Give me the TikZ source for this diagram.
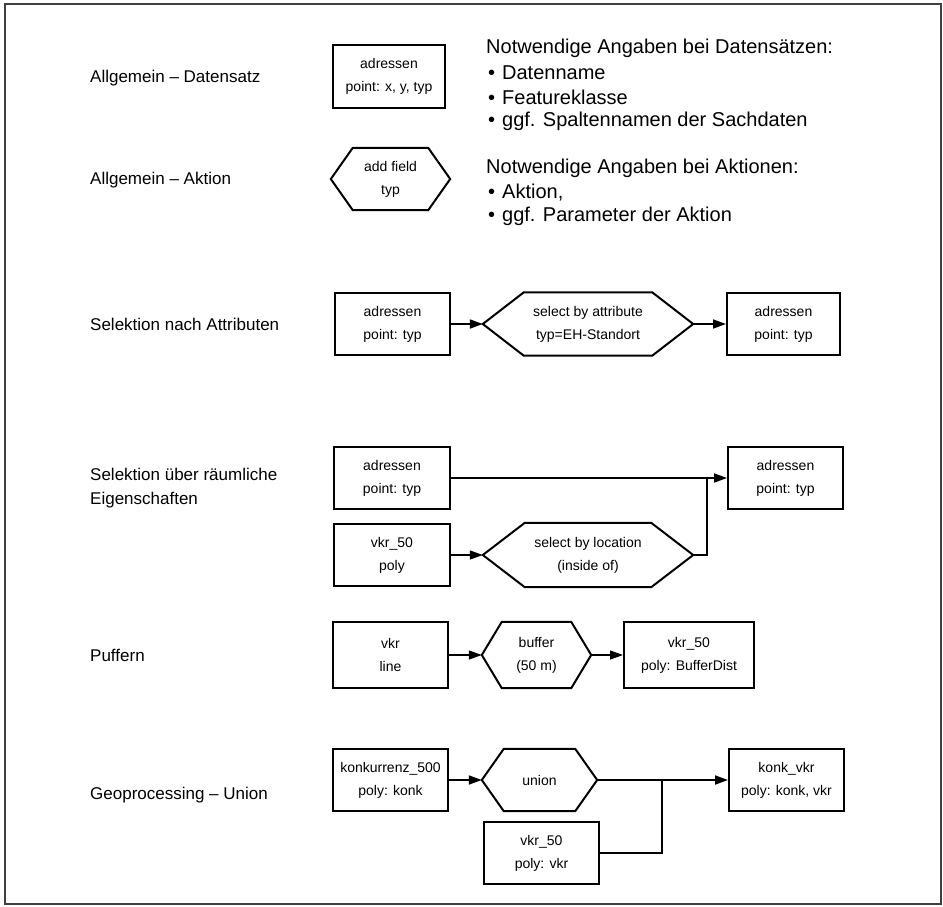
\documentclass[tikz,border=0pt]{standalone}
\usepackage{fontspec}
\setmainfont{Liberation Sans}
\usetikzlibrary{arrows.meta,calc}
\newcommand\hexdraw[2]{\draw[hexline] (#1.west) -- ($(#1.north west)+(#2,0)$) -- ($(#1.north east)+(-#2,0)$) -- (#1.east) -- ($(#1.south east)+(-#2,0)$) -- ($(#1.south west)+(#2,0)$) -- cycle;}
\begin{document}
\begin{tikzpicture}[x=1pt,y=-1pt,
  box/.style={draw,line width=2pt,minimum width=115pt,minimum height=62pt,inner sep=0pt,align=center,font=\fontsize{14}{23}\selectfont},
  hexn/.style={minimum height=63pt,inner sep=0pt,align=center,font=\fontsize{14}{23}\selectfont},
  hexline/.style={line width=2pt,line join=miter},
  lab/.style={anchor=west,inner sep=0pt,align=left,font=\fontsize{17}{24}\selectfont},
  rt/.style={anchor=west,inner sep=0pt,font=\fontsize{20}{24}\selectfont},
  conn/.style={line width=1.8pt,-{Triangle[length=13pt,width=9pt]}},
  connthin/.style={line width=1.2pt,-{Triangle[length=13pt,width=9pt]}},
  joinline/.style={line width=1.8pt},
  frameline/.style={line width=1.5pt,draw=black!75}
]
\useasboundingbox (0,0) rectangle (943,906);
\draw[frameline] (5,4) rectangle (941,904);

% left labels
\node[lab] (l1) at (90,78) {Allgemein – Datensatz};
\node[lab] (l2) at (90,180) {Allgemein – Aktion};
\node[lab] (l3) at (90,324) {Selektion nach Attributen};
\node[lab] (l4) at (90,488) {Selektion über räumliche\\Eigenschaften};
\node[lab] (l5) at (90,655) {Puffern};
\node[lab] (l6) at (90,795) {Geoprocessing – Union};

% general
\node[box,minimum width=112pt,minimum height=63pt] (b1) at (389,76.5) {adressen\\point: x, y, typ};
\node[hexn,minimum width=119pt,minimum height=62pt] (h1) at (390.5,179) {add field\\typ};
\hexdraw{h1}{22}

\node[rt] (n1) at (486,48) {Notwendige Angaben bei Datensätzen:};
\node[rt] (n1a) at (488,73) {\makebox[14pt][l]{•}Datenname};
\node[rt] (n1b) at (488,97) {\makebox[14pt][l]{•}Featureklasse};
\node[rt] (n1c) at (488,121) {\makebox[14pt][l]{•}ggf. Spaltennamen der Sachdaten};
\node[rt] (n2) at (486,168) {Notwendige Angaben bei Aktionen:};
\node[rt] (n2a) at (488,193) {\makebox[14pt][l]{•}Aktion,};
\node[rt] (n2b) at (488,216) {\makebox[14pt][l]{•}ggf. Parameter der Aktion};

% selection by attribute
\node[box] (b3a) at (392.5,324) {adressen\\point: typ};
\node[hexn,minimum width=210pt] (h3) at (588,324) {select by attribute\\typ=EH-Standort};
\hexdraw{h3}{41}
\node[box,minimum width=113pt] (b3b) at (783.5,324) {adressen\\point: typ};
\draw[conn] (b3a.east) -- (h3.west);
\draw[conn] (h3.east) -- (b3b.west);

% selection by location
\node[box,minimum width=116pt] (b4a) at (392,478) {adressen\\point: typ};
\node[box,minimum width=116pt] (b4b) at (392,555) {vkr\_50\\poly};
\node[hexn,minimum width=210pt,minimum height=64pt] (h4) at (588,555) {select by location\\(inside of)};
\hexdraw{h4}{42}
\node[box,minimum width=115pt] (b4c) at (785.5,478) {adressen\\point: typ};
\coordinate (j4) at (707,478);
\draw[conn] (b4a.east) -- (b4c.west);
\draw[connthin] (b4b.east) -- (h4.west);
\draw[joinline] (h4.east) -| (j4);

% buffer
\node[box,minimum height=66pt] (b5a) at (390.5,655) {vkr\\line};
\node[hexn,minimum width=109pt,minimum height=66pt] (h5) at (536.5,655) {buffer\\(50 m)};
\hexdraw{h5}{20}
\node[box,minimum width=130pt,minimum height=66pt] (b5b) at (689,655) {vkr\_50\\poly: BufferDist};
\draw[connthin] (b5a.east) -- (h5.west);
\draw[connthin] (h5.east) -- (b5b.west);

% union
\node[box] (b6a) at (390.5,780) {konkurrenz\_500\\poly: konk};
\node[hexn,minimum width=115pt,minimum height=62pt] (h6) at (539.5,780) {union};
\hexdraw{h6}{22}
\node[box] (b6c) at (786.5,780) {konk\_vkr\\poly: konk, vkr};
\node[box] (b6b) at (541.5,853) {vkr\_50\\poly: vkr};
\coordinate (j6) at (662,780);
\draw[conn] (b6a.east) -- (h6.west);
\draw[conn] (h6.east) -- (b6c.west);
\draw[joinline] (b6b.east) -| (j6);
\end{tikzpicture}
\end{document}
